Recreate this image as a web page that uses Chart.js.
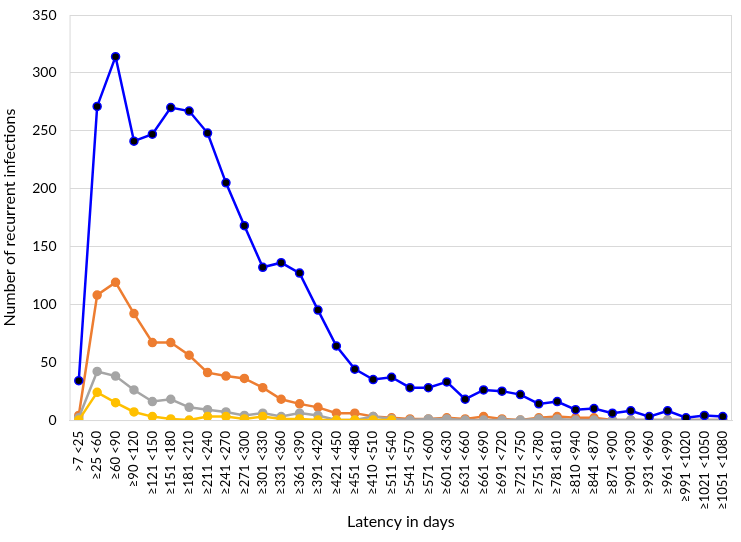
<!DOCTYPE html>
<html>
<head>
<meta charset="utf-8">
<script src="https://cdn.jsdelivr.net/npm/chart.js@4/dist/chart.umd.min.js"></script>
<style>
    html, body { margin: 0; padding: 0; background: #fff; }
    #wrap { width: 741px; height: 542px; }
</style>
</head>
<body>
<div id="wrap"><canvas id="latencyChart"></canvas></div>
<script>
const latencyBins = [">7 <25", "≥25 <60", "≥60 <90", "≥90 <120", "≥121 <150", "≥151 <180", "≥181 <210",
    "≥211 <240", "≥241 <270", "≥271 <300", "≥301 <330", "≥331 <360", "≥361 <390", "≥391 <420",
    "≥421 <450", "≥451 <480", "≥410 <510", "≥511 <540", "≥541 <570", "≥571 <600", "≥601 <630",
    "≥631 <660", "≥661 <690", "≥691 <720", "≥721 <750", "≥751 <780", "≥781 <810", "≥810 <940",
    "≥841 <870", "≥871 <900", "≥901 <930", "≥931 <960", "≥961 <990", "≥991 <1020", "≥1021 <1050",
    "≥1051 <1080"];

const totalSeries = [34, 271, 314, 241, 247, 270, 267, 248, 205, 168, 132, 136, 127, 95, 64, 44, 35, 37,
    28, 28, 33, 18, 26, 25, 22, 14, 16, 9, 10, 6, 8, 3, 8, 2, 4, 3];
const orangeSeries = [4, 108, 119, 92, 67, 67, 56, 41, 38, 36, 28, 18, 14, 11, 6, 6, 3, 2,
    1, 1, 2, 1, 3, 1, 0, 2, 3, 2, 2, 0, 0, 0, 0, 0, 0, 0];
const graySeries = [2, 42, 38, 26, 16, 18, 11, 9, 7, 4, 6, 3, 6, 4, 0, 0, 3, 1,
    0, 1, 1, 0, 0, 0, 0, 1, 1, 0, 0, 0, 0, 0, 0, 0, 0, 0];
const yellowSeries = [0, 24, 15, 7, 3, 1, 0, 3, 3, 1, 3, 1, 1, 0, 0, 0, 0, 0];

const yTicks = [0, 50, 100, 150, 200, 250, 300, 350];

const fontName = "Lato";

// box around the plot area like excel does
const plotBorder = {
    id: "plotBorder",
    afterDraw: (chart) => {
        const {ctx, chartArea: {left, top, right, bottom}} = chart;
        ctx.save();
        ctx.strokeStyle = "#D9D9D9";
        ctx.lineWidth = 1;
        ctx.strokeRect(left + 0.5, top + 0.5, right - left - 1, bottom - top);
        ctx.restore();
    }
};

function lineSet(data, color, fill) {
    return {
        data: data,
        borderColor: color,
        backgroundColor: fill,
        pointBackgroundColor: fill,
        pointBorderColor: color,
        pointBorderWidth: 1.5,
        pointRadius: 4,
        borderWidth: 2.5,
        tension: 0,
        spanGaps: false,
    };
}

new Chart(document.getElementById("latencyChart").getContext("2d"), {
    type: "line",
    data: {
        labels: latencyBins,
        datasets: [
            lineSet(totalSeries, "#0000FF", "#000000"),
            lineSet(yellowSeries, "#FFC000", "#FFC000"),
            lineSet(graySeries, "#A5A5A5", "#A5A5A5"),
            lineSet(orangeSeries, "#ED7D31", "#ED7D31"),
        ]
    },
    options: {
        responsive: true,
        maintainAspectRatio: false,
        animation: false,
        layout: {padding: {top: 15, right: 9, left: 0, bottom: 11}},
        plugins: {
            legend: {display: false},
            tooltip: {enabled: false},
        },
        scales: {
            x: {
                offset: true,
                afterFit: (axis) => { axis.paddingLeft = 0; axis.paddingRight = 0; },
                grid: {display: false, drawTicks: false},
                border: {display: true, color: "#D9D9D9"},
                ticks: {
                    color: "#000",
                    font: {family: fontName, size: 13},
                    minRotation: 90,
                    maxRotation: 90,
                    autoSkip: false,
                    padding: 11,
                },
                title: {
                    display: true,
                    text: "Latency in days",
                    color: "#000",
                    font: {family: fontName, size: 16},
                    padding: {top: -9, bottom: 0},
                }
            },
            y: {
                min: 0,
                max: 350,
                afterBuildTicks: (axis) => { axis.ticks = yTicks.map(v => ({value: v})); },
                afterFit: (axis) => { axis.paddingTop = 0; axis.paddingBottom = 0; },
                grid: {color: "#D9D9D9", drawTicks: false},
                border: {display: false},
                ticks: {
                    color: "#000",
                    font: {family: fontName, size: 14},
                    padding: 13,
                },
                title: {
                    display: true,
                    text: "Number of recurrent infections",
                    color: "#000",
                    font: {family: fontName, size: 16},
                    padding: {top: 0, bottom: 0},
                }
            }
        }
    },
    plugins: [plotBorder]
});
</script>
</body>
</html>
